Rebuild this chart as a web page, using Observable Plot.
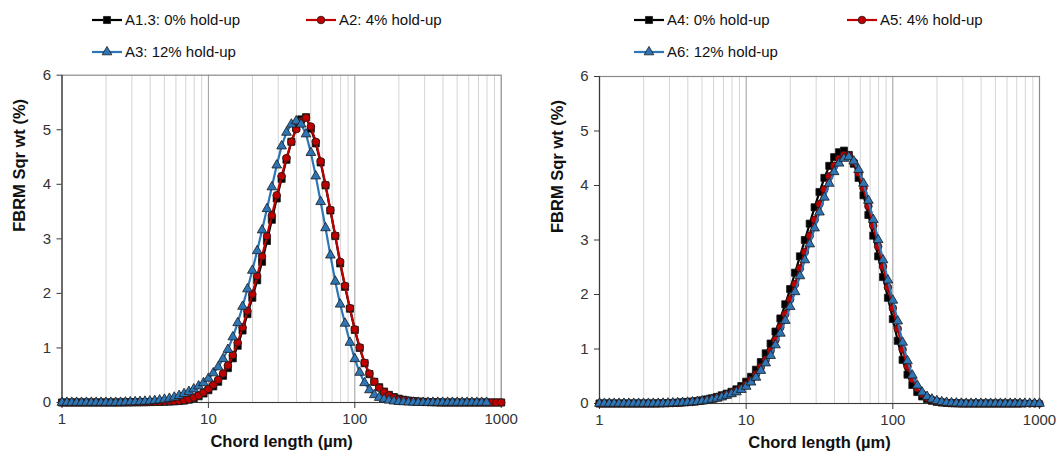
<!DOCTYPE html>
<html><head><meta charset="utf-8">
<script src="https://cdn.jsdelivr.net/npm/d3@7"></script>
<script src="https://cdn.jsdelivr.net/npm/@observablehq/plot@0.6"></script>
<style>
body{margin:0;background:#fff;font-family:"Liberation Sans",Arial,sans-serif;}
#wrap{position:relative;width:1057px;height:456px;overflow:hidden;background:#fff}
#wrap svg{position:absolute;top:0}
</style></head><body><div id="wrap"></div>
<script>
// Chord length channels (µm), 30 log channels per decade
const chordLength = [1,1.080,1.166,1.259,1.359,1.468,1.585,1.711,1.848,1.995,2.154,2.326,2.512,2.712,2.929,3.162,3.415,3.687,3.981,4.299,4.642,5.012,5.412,5.843,6.310,6.813,7.356,7.943,8.577,9.261,
10,10.80,11.66,12.59,13.59,14.68,15.85,17.11,18.48,19.95,21.54,23.26,25.12,27.12,29.29,31.62,34.15,36.87,39.81,42.99,46.42,50.12,54.12,58.43,63.10,68.13,73.56,79.43,85.77,92.61,
100,108.0,116.6,125.9,135.9,146.8,158.5,171.1,184.8,199.5,215.4,232.6,251.2,271.2,292.9,316.2,341.5,368.7,398.1,429.9,464.2,501.2,541.2,584.3,631.0,681.3,735.6,794.3,857.7,926.1,1000];

// Left panel
const a13 = [0,0,0,0,0,0,0,0,0,0,0,0,
0.001,0.002,0.003,0.004,0.005,0.006,0.008,0.01,0.012,0.015,0.018,0.022,0.027,0.035,0.052,0.078,0.115,0.165,
0.225,0.295,0.38,0.49,0.63,0.81,1.04,1.32,1.62,1.92,2.24,2.58,2.96,3.35,3.74,4.10,4.45,4.78,5.03,5.19,
5.23,5.02,4.75,4.40,3.98,3.52,3.05,2.55,2.12,1.72,1.33,1.00,0.72,0.52,0.38,0.28,0.20,0.14,0.10,0.07,
0.05,0.035,0.025,0.018,0.012,0.008,0.005,0.003,0,0,0,0,0,0,0,0,0,0,0,0,0];
const a2 = [0,0,0,0,0,0,0,0,0,0,0,0,
0.001,0.002,0.003,0.004,0.005,0.007,0.009,0.011,0.014,0.017,0.021,0.026,0.032,0.042,0.06,0.09,0.13,0.185,
0.25,0.325,0.415,0.53,0.68,0.87,1.10,1.38,1.68,1.99,2.32,2.68,3.05,3.43,3.80,4.15,4.48,4.78,5.01,5.16,
5.22,5.06,4.78,4.42,3.99,3.53,3.06,2.58,2.14,1.73,1.34,1.01,0.73,0.53,0.38,0.27,0.19,0.13,0.09,0.06,
0.045,0.03,0.02,0.014,0.009,0.006,0.004,0.002,0,0,0,0,0,0,0,0,0,0,0,0,0];
const a3 = [0,0,0,0,0,0,0,0,0,0,0,0,0,
0.005,0.008,0.011,0.015,0.02,0.025,0.033,0.043,0.056,0.073,0.095,0.125,0.16,0.20,0.245,0.30,0.36,
0.44,0.54,0.65,0.80,0.97,1.20,1.46,1.76,2.08,2.42,2.78,3.16,3.55,3.95,4.35,4.70,4.95,5.10,5.16,5.10,
4.92,4.58,4.15,3.68,3.20,2.70,2.22,1.80,1.45,1.10,0.80,0.55,0.36,0.23,0.14,0.09,0.06,0.04,0.025,0.015,
0.01,0.006,0.003,0,0,0,0,0,0,0,0,0,0,0,0,0,0,0];

// Right panel
const a4 = [0,0,0,0,0,0,0,0,0,0,0,0,
0.002,0.004,0.007,0.01,0.015,0.02,0.027,0.035,0.045,0.058,0.075,0.095,0.12,0.15,0.18,0.215,0.26,0.32,
0.40,0.49,0.62,0.76,0.92,1.10,1.32,1.56,1.82,2.10,2.40,2.70,3.00,3.30,3.60,3.88,4.14,4.36,4.52,4.61,
4.64,4.56,4.40,4.14,3.82,3.46,3.08,2.70,2.32,1.94,1.55,1.15,0.80,0.53,0.34,0.21,0.13,0.08,0.05,0.03,
0.018,0.01,0.006,0.003,0,0,0,0,0,0,0,0,0,0,0,0,0];
const a5 = [0,0,0,0,0,0,0,0,0,0,0,0,0,
0.003,0.005,0.008,0.012,0.017,0.023,0.03,0.038,0.05,0.064,0.082,0.104,0.13,0.16,0.19,0.23,0.28,
0.35,0.43,0.535,0.67,0.805,0.97,1.17,1.40,1.64,1.91,2.19,2.48,2.78,3.08,3.37,3.66,3.93,4.17,4.36,4.49,
4.56,4.55,4.43,4.23,3.95,3.62,3.26,2.88,2.51,2.13,1.75,1.37,0.99,0.68,0.45,0.28,0.175,0.108,0.067,0.041,
0.025,0.015,0.008,0.005,0.002,0,0,0,0,0,0,0,0,0,0,0,0,0,0,0,0];
const a6 = [0,0,0,0,0,0,0,0,0,0,0,0,0,
0.002,0.004,0.007,0.01,0.015,0.02,0.026,0.034,0.044,0.057,0.073,0.093,0.117,0.146,0.176,0.21,0.254,
0.312,0.39,0.478,0.604,0.741,0.878,1.073,1.287,1.521,1.775,2.048,2.34,2.633,2.925,3.218,3.51,3.783,4.037,4.25,4.407,
4.495,4.524,4.446,4.29,4.037,3.725,3.374,3.003,2.633,2.262,1.892,1.511,1.121,0.78,0.517,0.332,0.205,0.127,0.078,0.049,
0.029,0.018,0.01,0.006,0.003,0,0,0,0,0,0,0,0,0,0,0,0,0,0,0,0];

const leftNames = ["A1.3: 0% hold-up","A2: 4% hold-up","A3: 12% hold-up"];
const rightNames = ["A4: 0% hold-up","A5: 4% hold-up","A6: 12% hold-up"];
const xTicks = [1,10,100,1000];
const yTicks = [0,1,2,3,4,5,6];
const majorGrid = [10,100];
const minorGrid = [2,3,4,5,6,7,8,9,20,30,40,50,60,70,80,90,200,300,400,500,600,700,800,900];
const yLabel = "FBRM Sqr wt (%)";
const xLabel = "Chord length (µm)";

const styles = [
  {color:"#000000", symbol:"square", r:4.0},
  {color:"#c00000", symbol:"circle", r:3.8},
  {color:"#2e75b6", symbol:"triangle", r:3.6}
];

function panel(seriesValues, m) {
  const marks = [
    Plot.ruleX(minorGrid, {stroke:"#d4d4d4", strokeWidth:1}),
    Plot.ruleX(majorGrid, {stroke:"#9c9c9c", strokeWidth:1}),
    Plot.frame({stroke:"#8a8a8a", strokeWidth:1.2}),
    Plot.ruleY([0], {stroke:"#3a3a3a", strokeWidth:1.2}),
    Plot.ruleX([1], {stroke:"#3a3a3a", strokeWidth:1.2}),
    Plot.axisX({ticks:xTicks, tickFormat:d=>String(d), tickSize:6, tickPadding:5, fontSize:15, fill:"#333", stroke:"#3a3a3a", label:null}),
    Plot.axisY({ticks:yTicks, tickFormat:d=>String(d), tickSize:5, tickPadding:6, fontSize:15, fill:"#333", stroke:"#3a3a3a", label:null}),
    Plot.text([yLabel], {frameAnchor:"left", dx:-42, dy:-7, rotate:-90, text:d=>d, fontWeight:"bold", fontSize:16.5, fill:"#111"}),
    Plot.text([xLabel], {frameAnchor:"bottom", dy:44, text:d=>d, fontWeight:"bold", fontSize:16.5, fill:"#111"})
  ];
  seriesValues.forEach((vals, s) => {
    const st = styles[s];
    const data = vals.map((v,i)=>({x:chordLength[i], y:v}));
    marks.push(Plot.line(data, {x:"x", y:"y", stroke:st.color, strokeWidth:2.2}));
    marks.push(Plot.dot(data, {x:"x", y:"y", symbol:st.symbol, r:st.r, fill:st.color, stroke:"#1a1a1a", strokeWidth:0.8}));
  });
  return Plot.plot({
    width:m.width, height:456,
    marginLeft:m.left, marginRight:m.right, marginTop:m.top, marginBottom:m.bottom,
    style:{fontFamily:"'Liberation Sans', Arial, sans-serif", background:"transparent", overflow:"visible"},
    x:{type:"log", domain:[1,1000]},
    y:{domain:[0,6]},
    marks
  });
}

const wrap = document.getElementById("wrap");
const left = panel([a13,a2,a3], {width:528, left:61.5, right:27.3, top:74.7, bottom:54});
left.style.left = "0px";
wrap.appendChild(left);
const right = panel([a4,a5,a6], {width:529, left:71, right:18, top:76, bottom:53});
right.style.left = "528px";
wrap.appendChild(right);

// Legends
const leg = d3.select(wrap).append("svg").attr("width",1057).attr("height",70)
  .style("left","0px").style("top","0px").style("overflow","visible");
const legendPos = [[92,20],[306,20],[92,52]];
const legendPosR = [[634,20],[847,20],[634,52]];
function drawLegend(names, pos) {
  names.forEach((n,i)=>{
    const st = styles[i];
    const [sx, sy] = pos[i];
    const g = leg.append("g");
    g.append("line").attr("x1",sx).attr("x2",sx+30).attr("y1",sy).attr("y2",sy)
      .attr("stroke",st.color).attr("stroke-width",2.2);
    const sym = st.symbol==="square"?d3.symbolSquare:st.symbol==="circle"?d3.symbolCircle:d3.symbolTriangle;
    g.append("path").attr("d", d3.symbol(sym, st.r*st.r*Math.PI)())
      .attr("transform",`translate(${sx+15},${sy})`)
      .attr("fill",st.color).attr("stroke","#1a1a1a").attr("stroke-width",0.8);
    g.append("text").attr("x",sx+33).attr("y",sy).attr("dy","0.35em")
      .attr("font-family","'Liberation Sans', Arial, sans-serif").attr("font-size",15)
      .attr("fill","#111").text(n);
  });
}
drawLegend(leftNames, legendPos);
drawLegend(rightNames, legendPosR);
</script></body></html>
